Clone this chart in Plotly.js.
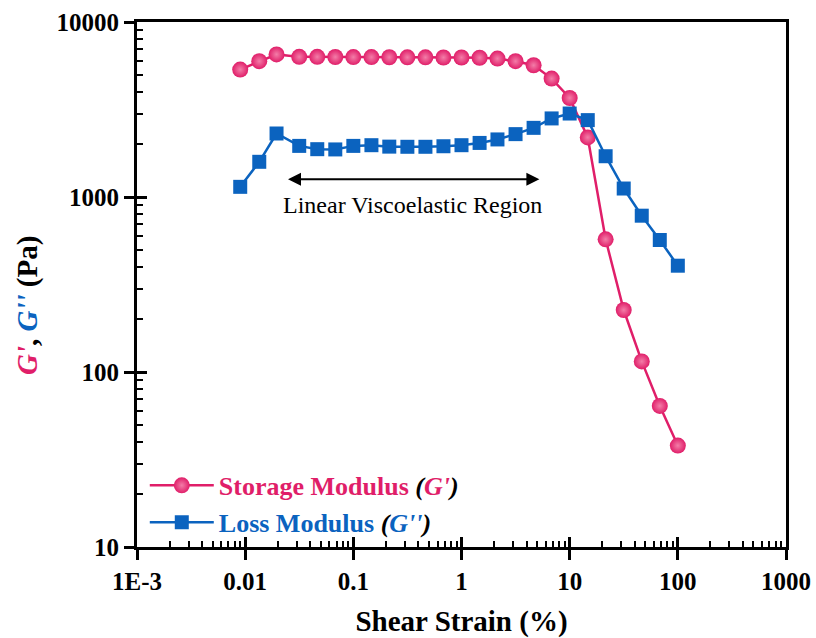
<!DOCTYPE html>
<html>
<head>
<meta charset="utf-8">
<script src="https://cdn.plot.ly/plotly-3.0.1.min.js"></script>
<style>html,body{margin:0;padding:0;background:#fff;}#chart{width:816px;height:638px;}</style>
</head>
<body>
<div id="chart"></div>
<script>
// ---- data ----
var strain = [0.009, 0.0135, 0.0195, 0.0316, 0.0464, 0.0681, 0.1, 0.147, 0.215, 0.316, 0.464, 0.681, 1, 1.47, 2.15, 3.16, 4.64, 6.81, 10, 14.7, 21.5, 31.6, 46.4, 68.1, 100];
var storageModulus = [5350, 5970, 6530, 6320, 6320, 6310, 6300, 6300, 6290, 6280, 6280, 6270, 6270, 6250, 6180, 5970, 5660, 4750, 3680, 2190, 573, 226, 115, 64, 38];
var lossModulus = [1143, 1589, 2306, 1959, 1876, 1870, 1959, 1977, 1940, 1936, 1936, 1950, 1977, 2037, 2133, 2287, 2484, 2812, 2999, 2750, 1710, 1118, 782, 568, 405];
var xTickVals = [0.001, 0.01, 0.1, 1, 10, 100, 1000];
var xTickText = ["1E-3", "0.01", "0.1", "1", "10", "100", "1000"];
var yTickVals = [10, 100, 1000, 10000];
var yTickText = ["10", "100", "1000", "10000"];
var regionLabel = "Linear Viscoelastic Region";
var regionStart = 0.0241, regionEnd = 5.25, regionLevel = 1265;

var PINK = "#E01E69", BLUE = "#0B63BF";
var FONT = "Liberation Serif, Times New Roman, serif";

function minorVals(lo, hi) {
  var v = [];
  for (var e = lo; e < hi; e++) for (var d = 2; d <= 9; d++) v.push(d * Math.pow(10, e));
  return v;
}

var traces = [
  {
    x: strain, y: storageModulus, type: "scatter", mode: "lines+markers",
    name: '<span style="color:' + PINK + '">Storage Modulus </span><i>(<span style="color:' + PINK + '">G\'</span>)</i>',
    line: {color: PINK, width: 2.5},
    marker: {symbol: "circle", size: 16, color: PINK, gradient: {type: "radial", color: "#F37DA8"}, line: {width: 0}}
  },
  {
    x: strain, y: lossModulus, type: "scatter", mode: "lines+markers",
    name: '<span style="color:' + BLUE + '">Loss Modulus </span><i>(<span style="color:' + BLUE + '">G\'\'</span>)</i>',
    line: {color: BLUE, width: 2.5},
    marker: {symbol: "square", size: 14, color: BLUE, line: {width: 0}}
  },
  {x: [], y: [], xaxis: "x2", yaxis: "y2", type: "scatter", mode: "markers", showlegend: false, hoverinfo: "skip"}
];

var layout = {
  width: 816, height: 638,
  margin: {l: 137, r: 30, t: 22, b: 91},
  paper_bgcolor: "#fff", plot_bgcolor: "#fff",
  font: {family: FONT, size: 25, color: "#000", weight: "bold"},
  showlegend: true,
  legend: {
    x: 0.012, y: 0.162, xanchor: "left", yanchor: "top",
    bgcolor: "rgba(0,0,0,0)", itemwidth: 64, tracegroupgap: 0,
    font: {family: FONT, size: 26, color: "#000", weight: "bold"}
  },
  xaxis: {
    type: "log", range: [-3, 3],
    tickmode: "array", tickvals: xTickVals, ticktext: xTickText,
    ticks: "outside", ticklen: 10, tickwidth: 3, tickcolor: "#000",
    showline: true, linewidth: 3, linecolor: "#000", mirror: true,
    showgrid: false, zeroline: false,
    tickfont: {family: FONT, size: 25, color: "#000", weight: "bold"},
    minor: {tickmode: "array", tickvals: minorVals(-3, 3), ticks: "inside", ticklen: 6, tickwidth: 2, tickcolor: "#000", showgrid: false},
    title: {text: "Shear Strain (%)", standoff: 22, font: {family: FONT, size: 29, color: "#000", weight: "bold"}}
  },
  yaxis: {
    type: "log", range: [1, 4],
    tickmode: "array", tickvals: yTickVals, ticktext: yTickText,
    ticks: "outside", ticklen: 10, tickwidth: 3, tickcolor: "#000",
    showline: true, linewidth: 3, linecolor: "#000", mirror: true,
    showgrid: false, zeroline: false,
    tickfont: {family: FONT, size: 25, color: "#000", weight: "bold"},
    minor: {tickmode: "array", tickvals: minorVals(1, 4), ticks: "inside", ticklen: 6, tickwidth: 2, tickcolor: "#000", showgrid: false}
  },
  xaxis2: {
    type: "log", range: [-3, 3], overlaying: "x", anchor: "y2", side: "bottom",
    tickmode: "array", tickvals: xTickVals, ticks: "inside", ticklen: 10, tickwidth: 3, tickcolor: "#000",
    showticklabels: false, showline: false, showgrid: false, zeroline: false
  },
  yaxis2: {
    type: "log", range: [1, 4], overlaying: "y", anchor: "x2", side: "left",
    tickmode: "array", tickvals: yTickVals, ticks: "inside", ticklen: 10, tickwidth: 3, tickcolor: "#000",
    showticklabels: false, showline: false, showgrid: false, zeroline: false
  },
  annotations: [
    {
      xref: "paper", yref: "paper", x: -0.168, y: 0.461, textangle: -90,
      xanchor: "center", yanchor: "middle", showarrow: false,
      text: '<i><span style="color:' + PINK + '">G\'</span></i>, <i><span style="color:' + BLUE + '">G\'\'</span></i> (Pa)',
      font: {family: FONT, size: 29, color: "#000", weight: "bold"}
    },
    {
      xref: "x", yref: "y", axref: "x", ayref: "y",
      x: Math.log10(regionEnd), y: Math.log10(regionLevel),
      ax: Math.log10(regionStart), ay: Math.log10(regionLevel),
      text: "", showarrow: true, arrowside: "end+start",
      arrowhead: 2, arrowsize: 1.3, arrowwidth: 2, arrowcolor: "#000"
    },
    {
      xref: "x", yref: "y",
      x: Math.log10(Math.sqrt(regionStart * regionEnd)), y: Math.log10(regionLevel) - 0.15,
      text: regionLabel, showarrow: false,
      font: {family: FONT, size: 24, color: "#000", weight: "normal"}
    }
  ]
};

Plotly.newPlot("chart", traces, layout, {displayModeBar: false, staticPlot: true});
</script>
</body>
</html>
